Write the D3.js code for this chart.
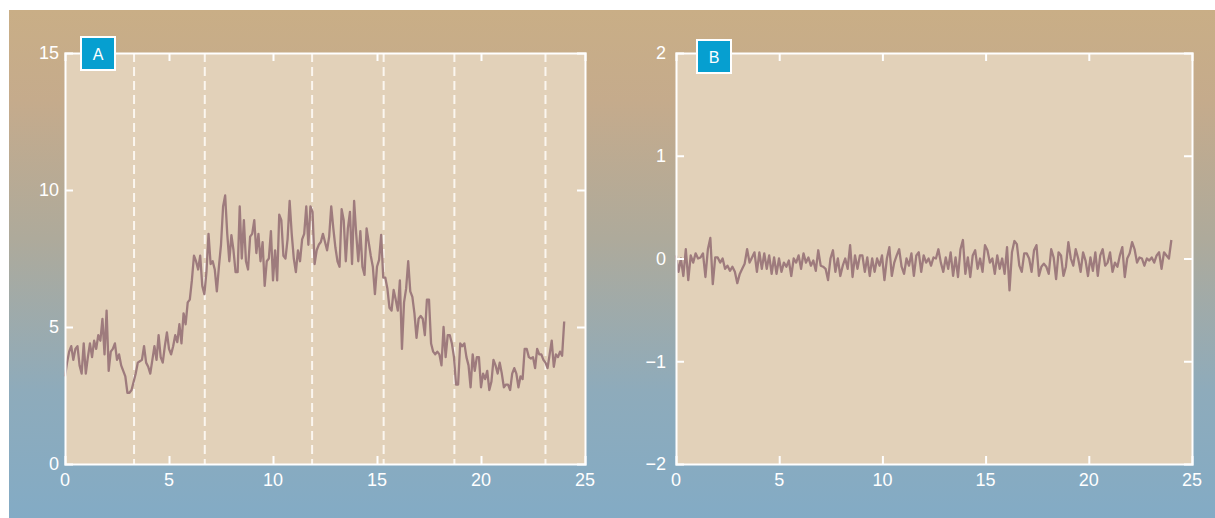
<!DOCTYPE html>
<html>
<head>
<meta charset="utf-8">
<script src="https://cdn.jsdelivr.net/npm/d3@7"></script>
<style>
  body { margin: 0; background: #fff; }
  svg { display: block; font-family: "Liberation Sans", Arial, Helvetica, sans-serif; }
</style>
</head>
<body>
<div id="chart"></div>
<script>
// series A: raw signal, one value per sample over 24 h
const seriesA = [
  3.2, 3.7, 4.1, 4.3, 3.8, 4.2, 4.3, 3.6, 3.3, 4.4, 3.3, 3.9, 4.4, 3.9, 4.5, 4.2, 4.7, 4.5, 5.3, 4.0,
  5.6, 3.4, 4.1, 4.2, 4.4, 3.8, 4.0, 3.6, 3.4, 3.2, 2.6, 2.6, 2.7, 3.0,
  3.3, 3.7, 3.75, 3.8, 4.3, 3.7, 3.55, 3.3, 3.8, 4.3, 3.8, 4.7, 3.9, 3.7, 4.3, 4.8, 4.2, 4.0, 4.3, 4.7,
  4.45, 5.1, 4.4, 5.5, 5.1, 5.9, 6.0, 6.7, 7.6, 7.4, 7.1, 7.6, 6.5, 6.2, 7.0, 8.4, 7.3, 7.4, 7.1, 6.3,
  7.2, 8.0, 9.4, 9.8, 8.4, 7.4, 8.35, 7.8, 7.0, 7.0, 9.4,
  7.5, 8.9, 7.4, 7.1, 8.3, 8.4, 8.9, 7.7, 8.4, 7.4, 8.1, 6.5, 7.4, 7.5, 8.5, 6.7, 7.8, 6.7, 9.1, 8.9,
  7.6, 7.5, 8.2, 9.6, 8.4, 7.5, 7.0, 7.8, 7.4, 8.2, 8.4, 9.4, 8.0, 9.4, 9.2, 7.3, 7.8, 8.0, 8.1, 8.4,
  8.1, 7.8, 8.3, 9.4, 8.6, 7.9, 7.4, 7.2, 9.3, 8.9, 7.4, 8.6, 9.2, 7.3, 9.6, 8.4, 7.4, 8.5, 7.2, 6.9,
  8.6, 8.1, 7.6, 7.2, 6.2, 7.2, 7.45, 8.36, 6.8, 6.8, 6.4, 5.7, 5.6, 6.35, 6.0, 5.6, 6.7, 4.2, 5.9, 6.4,
  7.4, 6.3, 6.1,
  5.5, 4.6, 5.3, 5.4, 5.3, 4.7, 6.0, 6.0, 4.4, 4.1, 4.0, 4.1, 4.0, 3.6, 5.0, 3.9, 4.7, 4.7, 4.4, 3.9,
  2.9, 2.9, 4.4, 4.3, 4.4, 3.9, 3.6, 2.8, 4.0, 3.4, 3.9, 3.9, 2.8, 3.3, 3.1, 3.4, 2.7, 3.0, 3.8, 3.6,
  3.3, 3.7, 3.3, 2.8, 2.9, 2.9, 2.7, 3.3, 3.5, 3.3, 2.8, 3.2, 3.1, 4.2, 4.2, 3.9, 3.85, 3.9, 3.5, 4.2,
  4.0, 4.0, 3.8, 3.7, 3.5, 4.0, 4.5, 3.55, 4.0, 3.9, 4.1, 3.95, 5.2
];

// series B: detrended signal
const seriesB = [
  0.03, -0.13, 0.0, -0.17, 0.09, -0.21, 0.03, -0.04, 0.05, 0.0, 0.01, 0.05, -0.18, 0.09, 0.2, -0.25, 0.01, 0.01, -0.04, 0.0,
  -0.1, -0.07, -0.12, -0.08, -0.13, -0.24, -0.15, -0.1, -0.05, 0.09, -0.04, 0.01, 0.06, -0.13, 0.06, -0.1, 0.05, -0.1, 0.03, -0.15,
  0.01, -0.15, 0.0, -0.13, -0.04, -0.08, -0.02, -0.17, 0.0, -0.04, 0.03, -0.1, 0.05, -0.04, 0.01, -0.07, -0.02, -0.12, 0.08, -0.07,
  -0.08, -0.1, -0.21, 0.0, 0.08, -0.13, 0.0, -0.17, -0.07, 0.0, -0.1, 0.13, -0.18, 0.03, -0.1, 0.03, 0.03, -0.13, 0.01, -0.17,
  0.0, -0.13, 0.0, -0.07, 0.03, -0.21, 0.0, 0.11, -0.17, -0.04, 0.03, 0.09, -0.08, -0.15, 0.0, -0.07, 0.05, -0.17, 0.03, 0.06,
  -0.13, 0.03, -0.04, 0.0, -0.07, 0.01, 0.0, 0.09, -0.04, -0.13, 0.01, -0.1, 0.06, -0.17, 0.01, -0.18, 0.09, 0.18, -0.15, 0.01,
  -0.18, 0.03, 0.08, -0.1, 0.0, -0.13, 0.13, 0.08, -0.04, 0.0, -0.15, 0.03, -0.1, 0.0, -0.15, 0.11, -0.31, 0.06, 0.17, 0.14,
  -0.07, -0.13, 0.05, 0.05, 0.0, -0.13, 0.08, 0.13, -0.17, -0.08, -0.05, -0.08, -0.15, 0.09, 0.01, -0.2, 0.06, 0.03, -0.17, -0.08,
  0.16, 0.0, -0.07, 0.09, 0.0, -0.13, 0.06, -0.02, -0.17, 0.01, -0.12, 0.06, -0.17, 0.03, 0.09, -0.07, -0.04, 0.06, -0.13, -0.04,
  -0.08, 0.03, 0.11, -0.18, 0.0, 0.05, 0.16, 0.09, -0.04, 0.01, 0.0, -0.07, 0.0, -0.02, 0.01, -0.04, 0.03, 0.06, -0.1, 0.06,
  0.03, 0.0, 0.18
];

// dashed separators in panel A (hours)
const boundaries = [3.32, 6.72, 11.88, 15.32, 18.72, 23.1];

const xTicks = [0, 5, 10, 15, 20, 25];
const yTicksA = [0, 5, 10, 15];
const yTicksB = [-2, -1, 0, 1, 2];

const W = 1215, H = 518;
const lineColor = "#9e7b7d";
const plotFill = "#e2d1b9";

const svg = d3.select("#chart").append("svg")
    .attr("width", W)
    .attr("height", H);

// background gradient (tan at the top, blue at the bottom)
const grad = svg.append("defs").append("linearGradient")
    .attr("id", "bg")
    .attr("x1", 0).attr("y1", 0).attr("x2", 0).attr("y2", 1);
grad.append("stop").attr("offset", "0%").attr("stop-color", "#c9ae86");
grad.append("stop").attr("offset", "18%").attr("stop-color", "#c5ab8c");
grad.append("stop").attr("offset", "45%").attr("stop-color", "#aeaa9b");
grad.append("stop").attr("offset", "75%").attr("stop-color", "#8eabbb");
grad.append("stop").attr("offset", "100%").attr("stop-color", "#83abc5");

svg.append("rect")
    .attr("x", 9).attr("y", 10)
    .attr("width", W - 9).attr("height", H - 10)
    .attr("fill", "url(#bg)");

function drawPanel(opts) {
    const { left, right, top, bottom, yDomain, yTicks, values, label, labelBox, labelGap } = opts;

    const x = d3.scaleLinear().domain([0, 25]).range([left, right]);
    const y = d3.scaleLinear().domain(yDomain).range([bottom, top]);
    const g = svg.append("g");

    g.append("rect")
        .attr("x", left).attr("y", top)
        .attr("width", right - left).attr("height", bottom - top)
        .attr("fill", plotFill);

    // dashed separators
    if (opts.dashes) {
        g.selectAll("line.sep")
            .data(opts.dashes)
            .join("line")
            .attr("class", "sep")
            .attr("x1", d => x(d)).attr("x2", d => x(d))
            .attr("y1", top).attr("y2", bottom)
            .attr("stroke", "#fbf6ef")
            .attr("stroke-width", 2)
            .attr("stroke-dasharray", "9,5");
    }

    // data line
    const n = values.length;
    const line = d3.line()
        .x((d, i) => x(i * 24 / (n - 1)))
        .y(d => y(d));
    g.append("path")
        .datum(values)
        .attr("d", line)
        .attr("fill", "none")
        .attr("stroke", lineColor)
        .attr("stroke-width", 2.3)
        .attr("stroke-linejoin", "round");

    // axes: inner ticks on all four sides
    const inner = xTicks.filter(t => t > 0 && t < 25);
    const axisBottom = d3.axisBottom(x).tickValues(inner).tickSize(-8).tickFormat("");
    const axisTop = d3.axisTop(x).tickValues(inner).tickSize(-8).tickFormat("");
    const innerY = yTicks.slice(1, -1);
    const axisLeft = d3.axisLeft(y).tickValues(innerY).tickSize(-8).tickFormat("");
    const axisRight = d3.axisRight(y).tickValues(innerY).tickSize(-8).tickFormat("");

    const axes = [
        [axisBottom, `translate(0,${bottom})`],
        [axisTop, `translate(0,${top})`],
        [axisLeft, `translate(${left},0)`],
        [axisRight, `translate(${right},0)`]
    ];
    axes.forEach(([ax, tr]) => {
        const a = g.append("g").attr("transform", tr).call(ax);
        a.select(".domain").attr("stroke", "#fff").attr("stroke-width", 2);
        a.selectAll(".tick line").attr("stroke", "#fff").attr("stroke-width", 2);
    });

    // tick labels
    g.selectAll("text.xl")
        .data(xTicks)
        .join("text")
        .attr("class", "xl")
        .attr("x", d => x(d))
        .attr("y", bottom + 22)
        .attr("text-anchor", "middle")
        .attr("fill", "#fff")
        .attr("font-size", 18)
        .text(d => d);

    g.selectAll("text.yl")
        .data(yTicks)
        .join("text")
        .attr("class", "yl")
        .attr("x", left - labelGap)
        .attr("y", d => y(d))
        .attr("dy", "0.35em")
        .attr("text-anchor", "end")
        .attr("fill", "#fff")
        .attr("font-size", 18)
        .text(d => d < 0 ? "\u2212" + Math.abs(d) : d);

    // panel label box
    g.append("rect")
        .attr("x", labelBox[0]).attr("y", labelBox[1])
        .attr("width", 34).attr("height", 33)
        .attr("fill", "#069fd0")
        .attr("stroke", "#fff")
        .attr("stroke-width", 2);
    g.append("text")
        .attr("x", labelBox[0] + 17)
        .attr("y", labelBox[1] + 17)
        .attr("dy", "0.36em")
        .attr("text-anchor", "middle")
        .attr("fill", "#fff")
        .attr("font-size", 16)
        .text(label);
}

drawPanel({
    left: 65, right: 585, top: 53, bottom: 464,
    yDomain: [0, 15], yTicks: yTicksA, values: seriesA,
    dashes: boundaries, label: "A", labelBox: [81, 37], labelGap: 6
});

drawPanel({
    left: 676, right: 1192, top: 53, bottom: 464,
    yDomain: [-2, 2], yTicks: yTicksB, values: seriesB,
    label: "B", labelBox: [697, 40], labelGap: 10
});
</script>
</body>
</html>
